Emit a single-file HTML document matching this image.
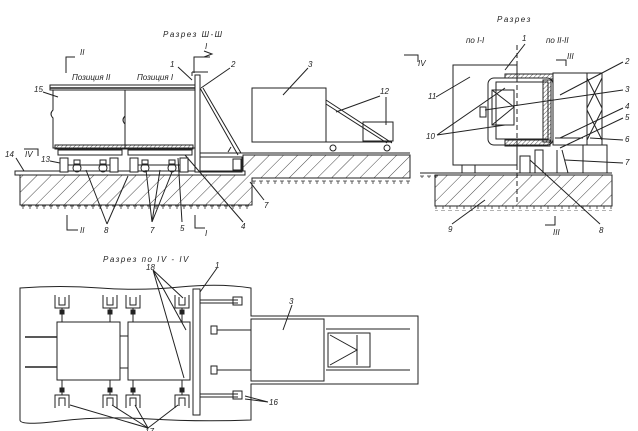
<!DOCTYPE html>
<html><head><meta charset="utf-8"><style>
html,body{margin:0;padding:0;background:#fff;}
svg{display:block;}
text{font-family:"Liberation Sans",sans-serif;font-style:italic;fill:#222;font-size:8px;}
</style></head><body>
<svg width="638" height="431" viewBox="0 0 638 431" xmlns="http://www.w3.org/2000/svg">
<defs>
<pattern id="h" width="10" height="10" patternUnits="userSpaceOnUse" patternTransform="rotate(45)">
<line x1="0" y1="0" x2="0" y2="10" stroke="#333" stroke-width="0.9"/>
</pattern>
<pattern id="g" width="7" height="5" patternUnits="userSpaceOnUse">
<path d="M0 1 H4 M2 1 V4" stroke="#333" stroke-width="0.8"/>
</pattern>
<pattern id="sh" width="3" height="3" patternUnits="userSpaceOnUse" patternTransform="rotate(45)">
<line x1="0" y1="0" x2="0" y2="3" stroke="#333" stroke-width="0.8"/>
</pattern>
<g id="ct" fill="none" stroke="#222" stroke-width="1"><path d="M-7 295 V308 H7 V295 M-3 297 V305 H3 V297 M0 308 V322"/><rect x="-2" y="310" width="4" height="4" fill="#222"/></g>
<g id="cb" fill="none" stroke="#222" stroke-width="1"><path d="M-7 408 V395 H7 V408 M-3 406 V398 H3 V406 M0 395 V380"/><rect x="-2" y="388" width="4" height="4" fill="#222"/></g>
</defs>
<g fill="none" stroke="#222" stroke-width="1">
<!-- LEFT ELEVATION -->
<polygon points="20,175 243,175 243,155 410,155 410,178 252,178 252,205 20,205" fill="url(#h)" stroke="#222"/>
<rect x="20" y="205" width="230" height="5" fill="url(#g)" stroke="none"/>
<rect x="252" y="180" width="158" height="5" fill="url(#g)" stroke="none"/>
<rect x="15" y="171" width="230" height="4" fill="#fff"/>
<line x1="200" y1="153" x2="410" y2="153"/>
<!-- containers -->
<rect x="50" y="85" width="145" height="5" fill="#fff"/>
<line x1="50" y1="88" x2="195" y2="88" stroke-width="1.5"/>
<path d="M53 90 V110 Q49 114 53 118 V148 H125 V90"/>
<path d="M125 90 V116 Q121 120 125 124 V148 H195 V90"/>
<rect x="55" y="145" width="138" height="4" fill="url(#sh)"/>
<rect x="58" y="150" width="64" height="5"/>
<rect x="128" y="150" width="64" height="5"/>
<!-- supports -->
<rect x="60" y="158" width="8" height="14" fill="#fff"/>
<rect x="110" y="158" width="8" height="14" fill="#fff"/>
<rect x="130" y="158" width="8" height="14" fill="#fff"/>
<rect x="180" y="158" width="8" height="14" fill="#fff"/>
<line x1="68" y1="165" x2="110" y2="165"/><line x1="138" y1="165" x2="180" y2="165"/>
<circle cx="77" cy="168" r="4"/><circle cx="103" cy="168" r="4"/>
<circle cx="145" cy="168" r="4"/><circle cx="172" cy="168" r="4"/>
<rect x="74" y="160" width="6" height="4"/><rect x="100" y="160" width="6" height="4"/>
<rect x="142" y="160" width="6" height="4"/><rect x="169" y="160" width="6" height="4"/>
<!-- post and strut -->
<rect x="195" y="75" width="5" height="97" fill="#fff"/>
<path d="M192 72 H208 M192 72 V76"/>
<path d="M200 88 L238 155 M203 88 L241 153"/>
<rect x="200" y="157" width="42" height="15"/>
<rect x="233" y="159" width="8" height="11"/>
<path d="M228 152 L231 147"/>
<!-- box 3 and cart 12 -->
<rect x="252" y="88" width="74" height="54" fill="#fff"/>
<path d="M326 100 L392 143 M326 104 L387 143"/>
<rect x="363" y="122" width="30" height="19"/>
<line x1="326" y1="142" x2="392" y2="142"/>
<circle cx="333" cy="148" r="3"/><circle cx="387" cy="148" r="3"/>
<!-- section marks -->
<path d="M66 73 V57 H75"/><path d="M194 73 V57 H210"/>
<path d="M204 51 L212 54 L204 57"/>
<path d="M67 215 V230 H78"/><path d="M195 215 V228 H205"/>
<path d="M404 55 H418 V62"/>
<path d="M24 149 H38 V156"/>
<!-- leaders left -->
<path d="M178 67 L192 80"/><path d="M230 68 L201 88"/>
<path d="M308 68 L283 95"/><path d="M380 96 L336 112 M386 97 L386 125"/>
<path d="M43 92 L58 97"/><path d="M50 161 L60 163"/><path d="M16 158 L24 171"/>
<path d="M107 224 L86 170 M107 224 L128 176"/>
<path d="M152 222 L146 170 M152 222 L160 170 M152 222 L172 172"/>
<path d="M182 222 L178 158"/>
<path d="M243 222 L185 155"/>
<path d="M264 200 L250 182"/>
<!-- RIGHT SECTION -->
<rect x="435" y="175" width="177" height="31" fill="url(#h)"/>
<line x1="420" y1="173" x2="612" y2="173"/>
<rect x="435" y="206" width="177" height="5" fill="url(#g)" stroke="none"/>
<rect x="420" y="174" width="20" height="4" fill="url(#g)" stroke="none"/>
<rect x="453" y="65" width="64" height="100" fill="#fff"/>
<rect x="462" y="165" width="13" height="8"/>
<rect x="505" y="74" width="48" height="5" fill="url(#sh)"/>
<rect x="488" y="78" width="65" height="67" rx="6" fill="#fff"/>
<rect x="543" y="80" width="8" height="62" fill="url(#sh)"/>
<rect x="505" y="140" width="45" height="6" fill="url(#sh)"/>
<path d="M496 82 H548 V139 H496 Z"/>
<rect x="492" y="90" width="22" height="35"/>
<path d="M492 90 L514 107 L492 125 M514 90 V125"/>
<rect x="480" y="107" width="6" height="10"/>
<rect x="553" y="73" width="49" height="72"/>
<rect x="587" y="73" width="15" height="72"/>
<path d="M587 78 L602 108 M602 78 L587 108 M587 110 L602 140 M602 110 L587 140"/>
<line x1="555" y1="138" x2="583" y2="138"/>
<rect x="583" y="145" width="24" height="28"/>
<rect x="520" y="156" width="10" height="17"/>
<rect x="535" y="150" width="8" height="23"/>
<path d="M557 150 V173 M562 150 L568 173"/>
<line x1="517" y1="45" x2="517" y2="205" stroke-dasharray="5,3"/>
<path d="M566 66 V60 H556"/><path d="M555 216 V225 H545"/>
<!-- leaders right -->
<path d="M623 62 L560 95"/><path d="M623 90 L485 110"/>
<path d="M623 108 L560 138"/><path d="M623 118 L560 148"/>
<path d="M623 140 L590 138"/><path d="M623 163 L565 160"/>
<path d="M600 224 L530 160"/><path d="M452 224 L485 200"/>
<path d="M437 135 L505 88 M437 135 L505 125"/>
<path d="M436 97 L470 77"/><path d="M525 44 L505 70"/>
<!-- PLAN VIEW -->
<path d="M20 288 Q60 285 100 288 T180 287 T251 288 V316 H418 V384 H251 V420 Q200 422 150 419 T60 421 T20 420 Z" fill="#fff"/>
<rect x="251" y="319" width="73" height="62"/>
<path d="M324 321 V379 M326 329 H410 M326 370 H410"/>
<rect x="328" y="333" width="42" height="34"/>
<path d="M330 335 L357 350 L330 365 M357 335 V365"/>
<rect x="57" y="322" width="63" height="58" fill="#fff"/>
<rect x="128" y="322" width="62" height="58" fill="#fff"/>
<path d="M120 336 H128 M120 368 H128"/>
<path d="M25 337 H57 M25 367 H57" stroke-width="1.5"/>
<rect x="193" y="289" width="7" height="126" fill="#fff"/>
<path d="M200 300 H238 M200 303 H238 M200 394 H238 M200 397 H238"/>
<rect x="233" y="297" width="9" height="8"/><rect x="233" y="391" width="9" height="8"/>
<path d="M217 330 H251 M217 370 H251"/>
<rect x="211" y="326" width="6" height="8"/><rect x="211" y="366" width="6" height="8"/>
<!-- leaders plan -->
<path d="M153 270 L183 298 M153 270 L186 330 M153 270 L184 378"/>
<path d="M217 268 L200 292"/><path d="M292 305 L283 330"/>
<path d="M268 402 L245 396 M268 402 L245 399"/>
<path d="M148 428 L70 405 M148 428 L112 405 M148 428 L135 405 M148 428 L178 405"/>
</g>
<use href="#ct" x="62"/><use href="#ct" x="110"/><use href="#ct" x="133"/><use href="#ct" x="182"/>
<use href="#cb" x="62"/><use href="#cb" x="110"/><use href="#cb" x="133"/><use href="#cb" x="182"/>
<!-- TEXT -->
<text x="163" y="37" letter-spacing="1.5">Разрез Ш-Ш</text>
<text x="80" y="55">II</text><text x="205" y="49">I</text>
<text x="72" y="80" font-size="7">Позиция II</text>
<text x="137" y="80" font-size="7">Позиция I</text>
<text x="170" y="67">1</text><text x="231" y="67">2</text><text x="308" y="67">3</text>
<text x="380" y="94">12</text><text x="418" y="66">IV</text>
<text x="34" y="92">15</text><text x="41" y="162">13</text>
<text x="5" y="157">14</text><text x="25" y="157">IV</text>
<text x="80" y="233">II</text><text x="104" y="233">8</text><text x="150" y="233">7</text>
<text x="180" y="231">5</text><text x="205" y="236">I</text><text x="241" y="229">4</text><text x="264" y="208">7</text>
<text x="497" y="22" letter-spacing="1.5">Разрез</text>
<text x="466" y="43">по I-I</text><text x="522" y="41">1</text><text x="546" y="43">по II-II</text>
<text x="625" y="64">2</text><text x="625" y="92">3</text><text x="625" y="109">4</text>
<text x="625" y="120">5</text><text x="625" y="142">6</text><text x="625" y="165">7</text>
<text x="599" y="233">8</text><text x="448" y="232">9</text>
<text x="426" y="139">10</text><text x="428" y="99">11</text>
<text x="567" y="59">III</text><text x="553" y="235">III</text>
<text x="103" y="262" letter-spacing="1.5">Разрез по IV - IV</text>
<text x="146" y="270">18</text><text x="215" y="268">1</text><text x="289" y="304">3</text>
<text x="269" y="405">16</text><text x="145" y="434">17</text>
</svg>
</body></html>
